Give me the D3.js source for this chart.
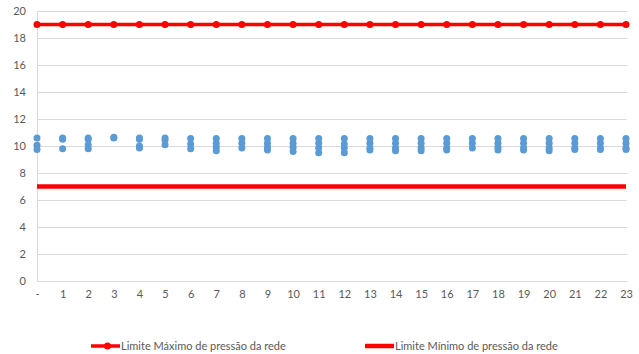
<!DOCTYPE html>
<html>
<head>
<meta charset="utf-8">
<script src="https://cdn.jsdelivr.net/npm/d3@7"></script>
<style>
  html, body { margin: 0; padding: 0; background: #fff; }
  svg { display: block; }
  text { font-family: Lato, "Open Sans", sans-serif; fill: #595959; }
</style>
</head>
<body>
<svg id="chart" width="639" height="354"></svg>
<script>
// Hour labels along the x axis
const hours = ["-", "1", "2", "3", "4", "5", "6", "7", "8", "9", "10", "11",
               "12", "13", "14", "15", "16", "17", "18", "19", "20", "21", "22", "23"];

// Measured network pressure readings for each hour
const pressureReadings = [
  [10.6, 10.05, 9.75],
  [10.6, 10.5, 9.8],
  [10.6, 10.5, 10.1, 9.8],
  [10.65, 10.6],
  [10.6, 10.5, 10.0, 9.85],
  [10.6, 10.45, 10.1],
  [10.55, 10.15, 9.8],
  [10.55, 10.2, 9.9, 9.65],
  [10.55, 10.2, 9.85],
  [10.55, 10.2, 9.9, 9.7],
  [10.55, 10.2, 9.9, 9.6],
  [10.55, 10.2, 9.85, 9.5],
  [10.55, 10.15, 9.85, 9.5],
  [10.55, 10.2, 9.85, 9.7],
  [10.55, 10.2, 9.85, 9.65],
  [10.55, 10.2, 9.85, 9.65],
  [10.55, 10.2, 9.85, 9.7],
  [10.55, 10.2, 9.85],
  [10.55, 10.2, 9.9, 9.7],
  [10.55, 10.2, 9.85, 9.7],
  [10.55, 10.2, 9.85, 9.65],
  [10.55, 10.2, 9.85, 9.75],
  [10.55, 10.2, 9.85, 9.75],
  [10.55, 10.2, 9.85, 9.75]
];

// Network pressure limits (one value per hour)
const maxLimit = hours.map(() => 19);
const minLimit = hours.map(() => 7);

const yTicks = [0, 2, 4, 6, 8, 10, 12, 14, 16, 18, 20];

const legendLabels = ["Limite Máximo de pressão da rede", "Limite Mínimo de pressão da rede"];

const svg = d3.select("#chart");
const plot = { left: 37, right: 626, top: 11, bottom: 281 };

const x = d3.scalePoint().domain(hours).range([plot.left, plot.right]).padding(0);
const y = d3.scaleLinear().domain([0, 20]).range([plot.bottom, plot.top]);

// Horizontal gridlines
svg.append("g")
  .selectAll("line")
  .data(yTicks)
  .join("line")
  .attr("x1", plot.left).attr("x2", plot.right + 1)
  .attr("y1", d => Math.round(y(d)) + 0.5).attr("y2", d => Math.round(y(d)) + 0.5)
  .attr("stroke", "#d9d9d9").attr("stroke-width", 1);

// Vertical axis line
svg.append("line")
  .attr("x1", plot.left + 0.5).attr("x2", plot.left + 0.5)
  .attr("y1", Math.round(y(20))).attr("y2", Math.round(y(0)) + 1)
  .attr("stroke", "#d9d9d9");

// Y axis labels
const yAxis = d3.axisLeft(y).tickValues(yTicks).tickSize(0).tickPadding(0);
const gy = svg.append("g").attr("transform", `translate(26,0)`).call(yAxis);
gy.select(".domain").remove();
gy.selectAll("text").style("font-size", "11px").attr("fill", "#595959")
  .style("font-family", "Lato, 'Open Sans', sans-serif");

// X axis labels
const xAxis = d3.axisBottom(x).tickSize(0).tickPadding(0);
const gx = svg.append("g").attr("transform", `translate(0,${plot.bottom + 9})`).call(xAxis);
gx.select(".domain").remove();
gx.selectAll("text").style("font-size", "11px").attr("fill", "#595959")
  .style("font-family", "Lato, 'Open Sans', sans-serif");

// Minimum limit line
const line = d3.line().x((d, i) => x(hours[i])).y(d => y(d));
svg.append("path")
  .datum(minLimit)
  .attr("d", line)
  .attr("fill", "none").attr("stroke", "#ff0000").attr("stroke-width", 4.5);

// Maximum limit line with markers
svg.append("path")
  .datum(maxLimit)
  .attr("d", line)
  .attr("fill", "none").attr("stroke", "#ff0000").attr("stroke-width", 3.5);
svg.append("g")
  .selectAll("circle")
  .data(maxLimit)
  .join("circle")
  .attr("cx", (d, i) => x(hours[i]))
  .attr("cy", d => y(d))
  .attr("r", 3.5)
  .attr("fill", "#ff0000");

// Pressure readings scatter
const points = pressureReadings.flatMap((vals, i) => vals.map(v => ({ hour: hours[i], value: v })));
svg.append("g")
  .selectAll("circle")
  .data(points)
  .join("circle")
  .attr("cx", d => x(d.hour))
  .attr("cy", d => y(d.value))
  .attr("r", 3.5)
  .attr("fill", "#5b9bd5");

// Legend
const legendY = 346;
const legend = svg.append("g");
const items = [
  { x0: 91, x1: 120, marker: true, width: 3.5, label: legendLabels[0] },
  { x0: 365, x1: 394, marker: false, width: 4.5, label: legendLabels[1] }
];
items.forEach(it => {
  legend.append("line")
    .attr("x1", it.x0).attr("x2", it.x1)
    .attr("y1", legendY).attr("y2", legendY)
    .attr("stroke", "#ff0000").attr("stroke-width", it.width);
  if (it.marker) {
    legend.append("circle")
      .attr("cx", (it.x0 + it.x1) / 2 + 2).attr("cy", legendY)
      .attr("r", 3.5).attr("fill", "#ff0000");
  }
  legend.append("text")
    .attr("x", it.x1 + 1).attr("y", legendY + 4)
    .style("font-size", "11px")
    .text(it.label);
});
</script>
</body>
</html>
